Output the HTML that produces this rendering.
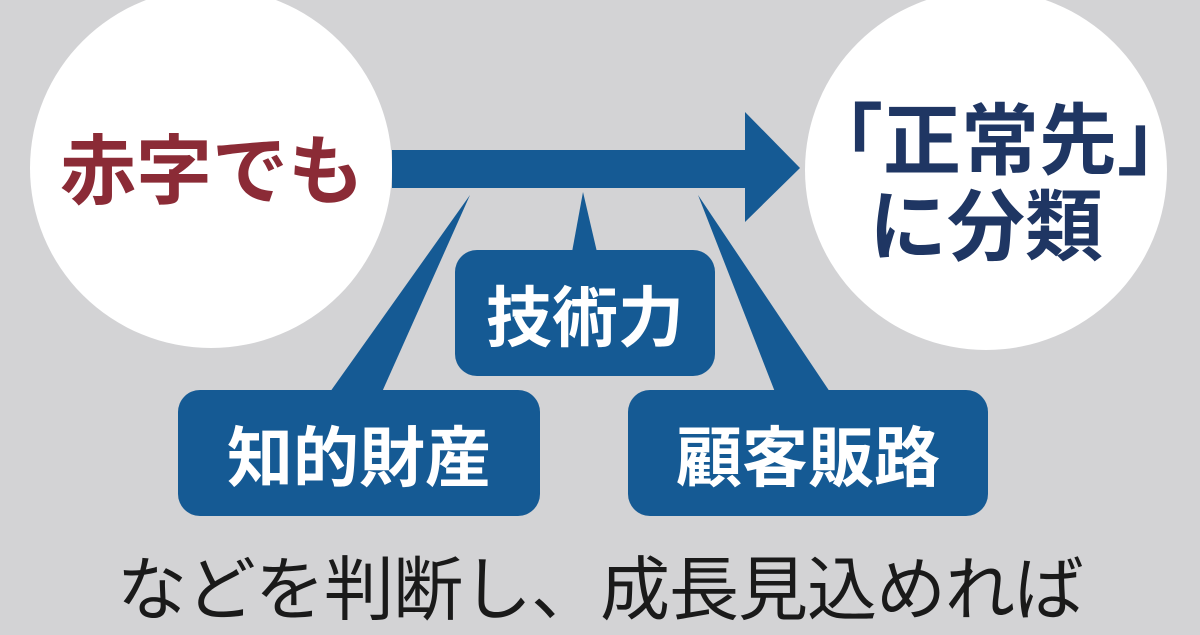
<!DOCTYPE html>
<html><head><meta charset="utf-8"><style>
body{margin:0;width:1200px;height:630px;background:#d3d3d5;position:relative;overflow:hidden;font-family:"Liberation Sans","Noto Sans CJK JP",sans-serif;}
.c{position:absolute;border-radius:50%;background:#fff;}
.t{position:absolute;font-weight:bold;white-space:nowrap;}
.b{position:absolute;background:#155a94;border-radius:22px;color:#fff;font-weight:bold;font-size:66px;display:flex;align-items:center;justify-content:center;}
</style></head><body>
<div class="c" style="left:30px;top:-12px;width:362px;height:360px"></div>
<div class="c" style="left:805px;top:-10px;width:362px;height:360px"></div>
<svg width="1200" height="630" style="position:absolute;left:0;top:0">
<g fill="#155a94">
<polygon points="392,150 745,150 745,112 800,168 745,222 745,188 392,188"/>
<polygon points="470,195 382,392 330,392"/>
<polygon points="583,192 597,252 572,252"/>
<polygon points="698,195 830,392 775,392"/>
</g></svg>
<div class="t" style="left:60px;top:110px;font-size:76px;color:#8b2b36">赤字でも</div>
<div class="t" style="left:805px;top:98px;font-size:78px;color:#1f3663;width:362px;text-align:center;line-height:86px">「正常先」<br>に分類</div>
<div class="b" style="left:455px;top:250px;width:260px;height:126px">技術力</div>
<div class="b" style="left:178px;top:390px;width:362px;height:126px">知的財産</div>
<div class="b" style="left:628px;top:390px;width:360px;height:126px">顧客販路</div>
<div class="t" style="left:0;width:1200px;text-align:center;top:534px;font-size:70px;font-weight:normal;color:#1a1a1a;letter-spacing:-1px">などを判断し、成長見込めれば</div>
</body></html>
